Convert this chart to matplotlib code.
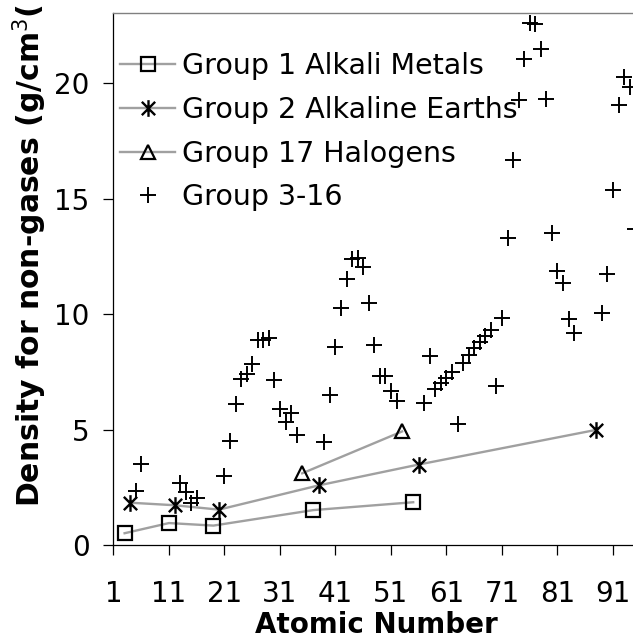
import matplotlib
matplotlib.use('Agg')
import matplotlib.pyplot as plt
from matplotlib.path import Path

# densities (g/cm3), by atomic number
group1_x = [3, 11, 19, 37, 55]
group1_y = [0.53, 0.97, 0.86, 1.53, 1.87]

group2_x = [4, 12, 20, 38, 56, 88]
group2_y = [1.85, 1.74, 1.55, 2.6, 3.5, 5.0]

group17_x = [35, 53]
group17_y = [3.12, 4.93]

other_x = [5, 6, 13, 14, 15, 16,
           21, 22, 23, 24, 25, 26, 27, 28, 29, 30, 31, 32, 33, 34,
           39, 40, 41, 42, 43, 44, 45, 46, 47, 48, 49, 50, 51, 52,
           57, 58, 59, 60, 61, 62, 63, 64, 65, 66, 67, 68, 69, 70, 71,
           72, 73, 74, 75, 76, 77, 78, 79, 80, 81, 82, 83, 84,
           89, 90, 91, 92, 93, 94, 95]
other_y = [2.34, 3.51, 2.70, 2.33, 1.82, 2.07,
           2.99, 4.5, 6.1, 7.19, 7.43, 7.86, 8.9, 8.9, 8.96, 7.14, 5.91, 5.32, 5.73, 4.79,
           4.47, 6.51, 8.57, 10.28, 11.5, 12.37, 12.41, 12.02, 10.49, 8.65, 7.31, 7.31, 6.68, 6.24,
           6.15, 8.2, 6.77, 7.01, 7.26, 7.52, 5.24, 7.90, 8.23, 8.55, 8.80, 9.07, 9.32, 6.90, 9.84,
           13.31, 16.65, 19.25, 21.02, 22.59, 22.56, 21.45, 19.30, 13.53, 11.85, 11.34, 9.78, 9.20,
           10.07, 11.72, 15.37, 19.05, 20.25, 19.84, 13.67]

x_ticks = [1, 11, 21, 31, 41, 51, 61, 71, 81, 91]
y_ticks = [0, 5, 10, 15, 20]

# excel style star: an x with a vertical bar through it
star = Path([(-1, -1), (1, 1), (-1, 1), (1, -1), (0, -1.25), (0, 1.25)],
            [Path.MOVETO, Path.LINETO, Path.MOVETO, Path.LINETO, Path.MOVETO, Path.LINETO])

line_col = '#a0a0a0'

fig = plt.figure(figsize=(6.33, 6.41), dpi=100)
ax = fig.add_axes([0.1793, 0.149, 0.8417, 0.830])

ax.plot(group1_x, group1_y, color=line_col, lw=1.7, marker='s', ms=9.5,
        fillstyle='none', mec='black', mew=1.6, label='Group 1 Alkali Metals')
ax.plot(group2_x, group2_y, color=line_col, lw=1.7, marker=star, ms=12,
        mec='black', mew=1.7, label='Group 2 Alkaline Earths')
ax.plot(group17_x, group17_y, color=line_col, lw=1.7, marker='^', ms=9.5,
        fillstyle='none', mec='black', mew=1.6, label='Group 17 Halogens')
ax.plot(other_x, other_y, ls='none', marker='+', ms=11, mec='black', mew=1.4,
        label='Group 3-16')

ax.set_xlim(1, 97)
ax.set_ylim(0, 23)
ax.set_xticks(x_ticks)
ax.set_yticks(y_ticks)
ax.tick_params(axis='both', direction='out', length=7.2, width=0.9, labelsize=20, colors='black')
ax.tick_params(axis='x', pad=18)
ax.tick_params(axis='y', pad=10)

for side in ['left', 'bottom']:
    ax.spines[side].set_color('black')
    ax.spines[side].set_linewidth(0.9)
ax.spines['top'].set_color('#808080')
ax.spines['top'].set_linewidth(1.0)
ax.spines['right'].set_visible(False)

ax.set_xlabel('Atomic Number', fontsize=20, fontweight='bold')
ax.xaxis.set_label_coords(0.494, -0.124)
ax.set_ylabel('Density for non-gases (g/cm$^3$(', fontsize=21.5, fontweight='bold')
ax.yaxis.set_label_coords(-0.121, 0.545)

ax.legend(loc='upper left', bbox_to_anchor=(0.012, 0.927), frameon=False, fontsize=20.5,
          numpoints=1, handlelength=1.95, handletextpad=0.22, labelspacing=0.55,
          borderpad=0, borderaxespad=0)

fig.savefig('out.png', dpi=100)
